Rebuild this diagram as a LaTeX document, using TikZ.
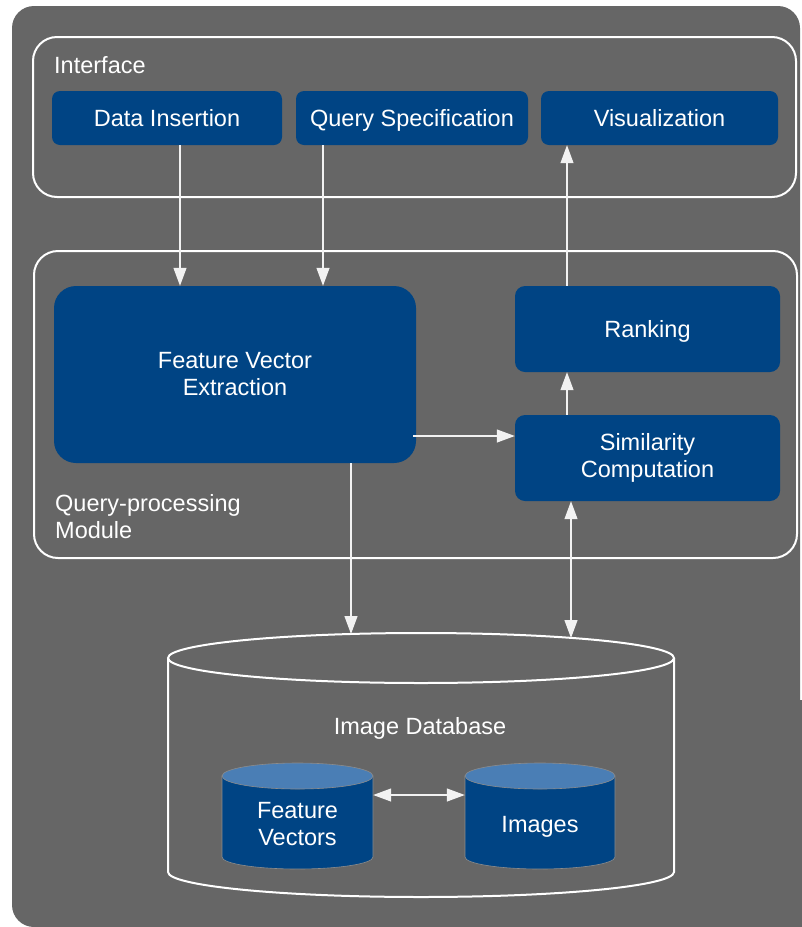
\documentclass[tikz,border=0pt]{standalone}
\usepackage{fontspec}
\setmainfont{Liberation Sans}
\usetikzlibrary{arrows.meta}
\definecolor{panel}{HTML}{666666}
\definecolor{boxblue}{HTML}{004484}
\definecolor{toplight}{HTML}{4A7EB5}
\definecolor{wire}{HTML}{F2F2F2}
\definecolor{rimgray}{HTML}{8C8C8C}

\begin{document}
\begin{tikzpicture}[x=1pt,y=-1pt,
  every node/.style={font=\fontsize{23.5}{27}\selectfont, text=white, inner sep=0pt, align=center},
  oneline/.style={text height=22pt, text depth=5pt},
  bluebox/.style={fill=boxblue, rounded corners=8pt},
  bigbox/.style={fill=boxblue, rounded corners=22pt},
  group/.style={draw=white, line width=2pt, rounded corners=24pt},
  wirearrow/.style={draw=wire, line width=1.2pt, -{Triangle[length=18pt,width=13pt]}},
  wireboth/.style={draw=wire, line width=1.2pt, {Triangle[length=18pt,width=13pt]}-{Triangle[length=18pt,width=13pt]}},
  drum/.style={fill=boxblue, draw=rimgray, line width=0.6pt},
  drumtop/.style={fill=toplight, draw=rimgray, line width=0.6pt}
]
\useasboundingbox (0,0) rectangle (802,927);

% dark panel behind everything
\fill[panel, rounded corners=22pt] (12,927) -- (12,6) -- (800,6) -- (800,927) -- cycle;
\fill[panel] (700,700) rectangle (802,927);

% interface group
\node[group, minimum width=763, minimum height=160] (iface) at (414.5,117) {};
\node[anchor=west] (ifacelbl) at (54,65) {Interface};
\node[bluebox, oneline, minimum width=230, minimum height=54] (ins) at (167,118) {Data Insertion};
\node[bluebox, oneline, minimum width=232, minimum height=54] (qs) at (412,118) {Query Specification};
\node[bluebox, oneline, minimum width=237, minimum height=54] (vis) at (659.5,118) {Visualization};

% query-processing group
\node[group, minimum width=763, minimum height=307] (qpm) at (415.5,404.5) {};
\node[anchor=west, align=left] (qpmlbl) at (55,517) {Query-processing\\Module};
\node[bigbox, minimum width=362, minimum height=177] (fve) at (235,374.5) {Feature Vector\\Extraction};
\node[bluebox, oneline, rounded corners=10pt, minimum width=265, minimum height=86] (rank) at (647.5,329) {Ranking};
\node[bluebox, rounded corners=10pt, minimum width=265, minimum height=86] (sim) at (647.5,458) {Similarity\\Computation};

% image database cylinder
\draw[white, line width=2pt] (168,658) -- (168,872)
  arc[start angle=180, end angle=0, x radius=253, y radius=25] -- (674,658);
\draw[white, line width=2pt] (421,658) ellipse[x radius=253, y radius=25];
\node[oneline] (db) at (420,726) {Image Database};
\coordinate (dbin1) at (351,634);
\coordinate (dbin2) at (571,638);

% inner cylinders
\fill[drum] (222,776) -- (222,857)
  arc[start angle=180, end angle=0, x radius=75.5, y radius=12] -- (373,776) -- cycle;
\draw[drumtop] (297.5,776) ellipse[x radius=75.5, y radius=13];
\fill[drum] (465,776) -- (465,857)
  arc[start angle=180, end angle=0, x radius=75, y radius=12] -- (615,776) -- cycle;
\draw[drumtop] (540,776) ellipse[x radius=75, y radius=13];
\node[minimum width=151] (fv) at (297.5,824) {Feature\\Vectors};
\node[oneline, minimum width=150] (img) at (540,824) {Images};

% connectors
\draw[wirearrow] ([xshift=13pt]ins.south) -- ([xshift=13pt]ins.south |- fve.north);
\draw[wirearrow] ([xshift=-89pt]qs.south) -- ([xshift=-89pt]qs.south |- fve.north);
\draw[wirearrow] ([xshift=-80.5pt]rank.north) -- ([xshift=-80.5pt]rank.north |- vis.south);
\draw[wirearrow] ([xshift=-80.5pt]sim.north) -- ([xshift=-80.5pt]rank.south);
\draw[wirearrow] ([xshift=-3pt,yshift=-61.5pt]fve.east) -- ([yshift=-61.5pt]fve.east -| sim.west);
\draw[wirearrow] ([xshift=116pt]fve.south) -- (dbin1);
\draw[wireboth] ([xshift=-76.5pt]sim.south) -- (dbin2);
\draw[wireboth] ([yshift=29pt]fv.east) -- ([yshift=29pt]img.west);
\end{tikzpicture}
\end{document}
